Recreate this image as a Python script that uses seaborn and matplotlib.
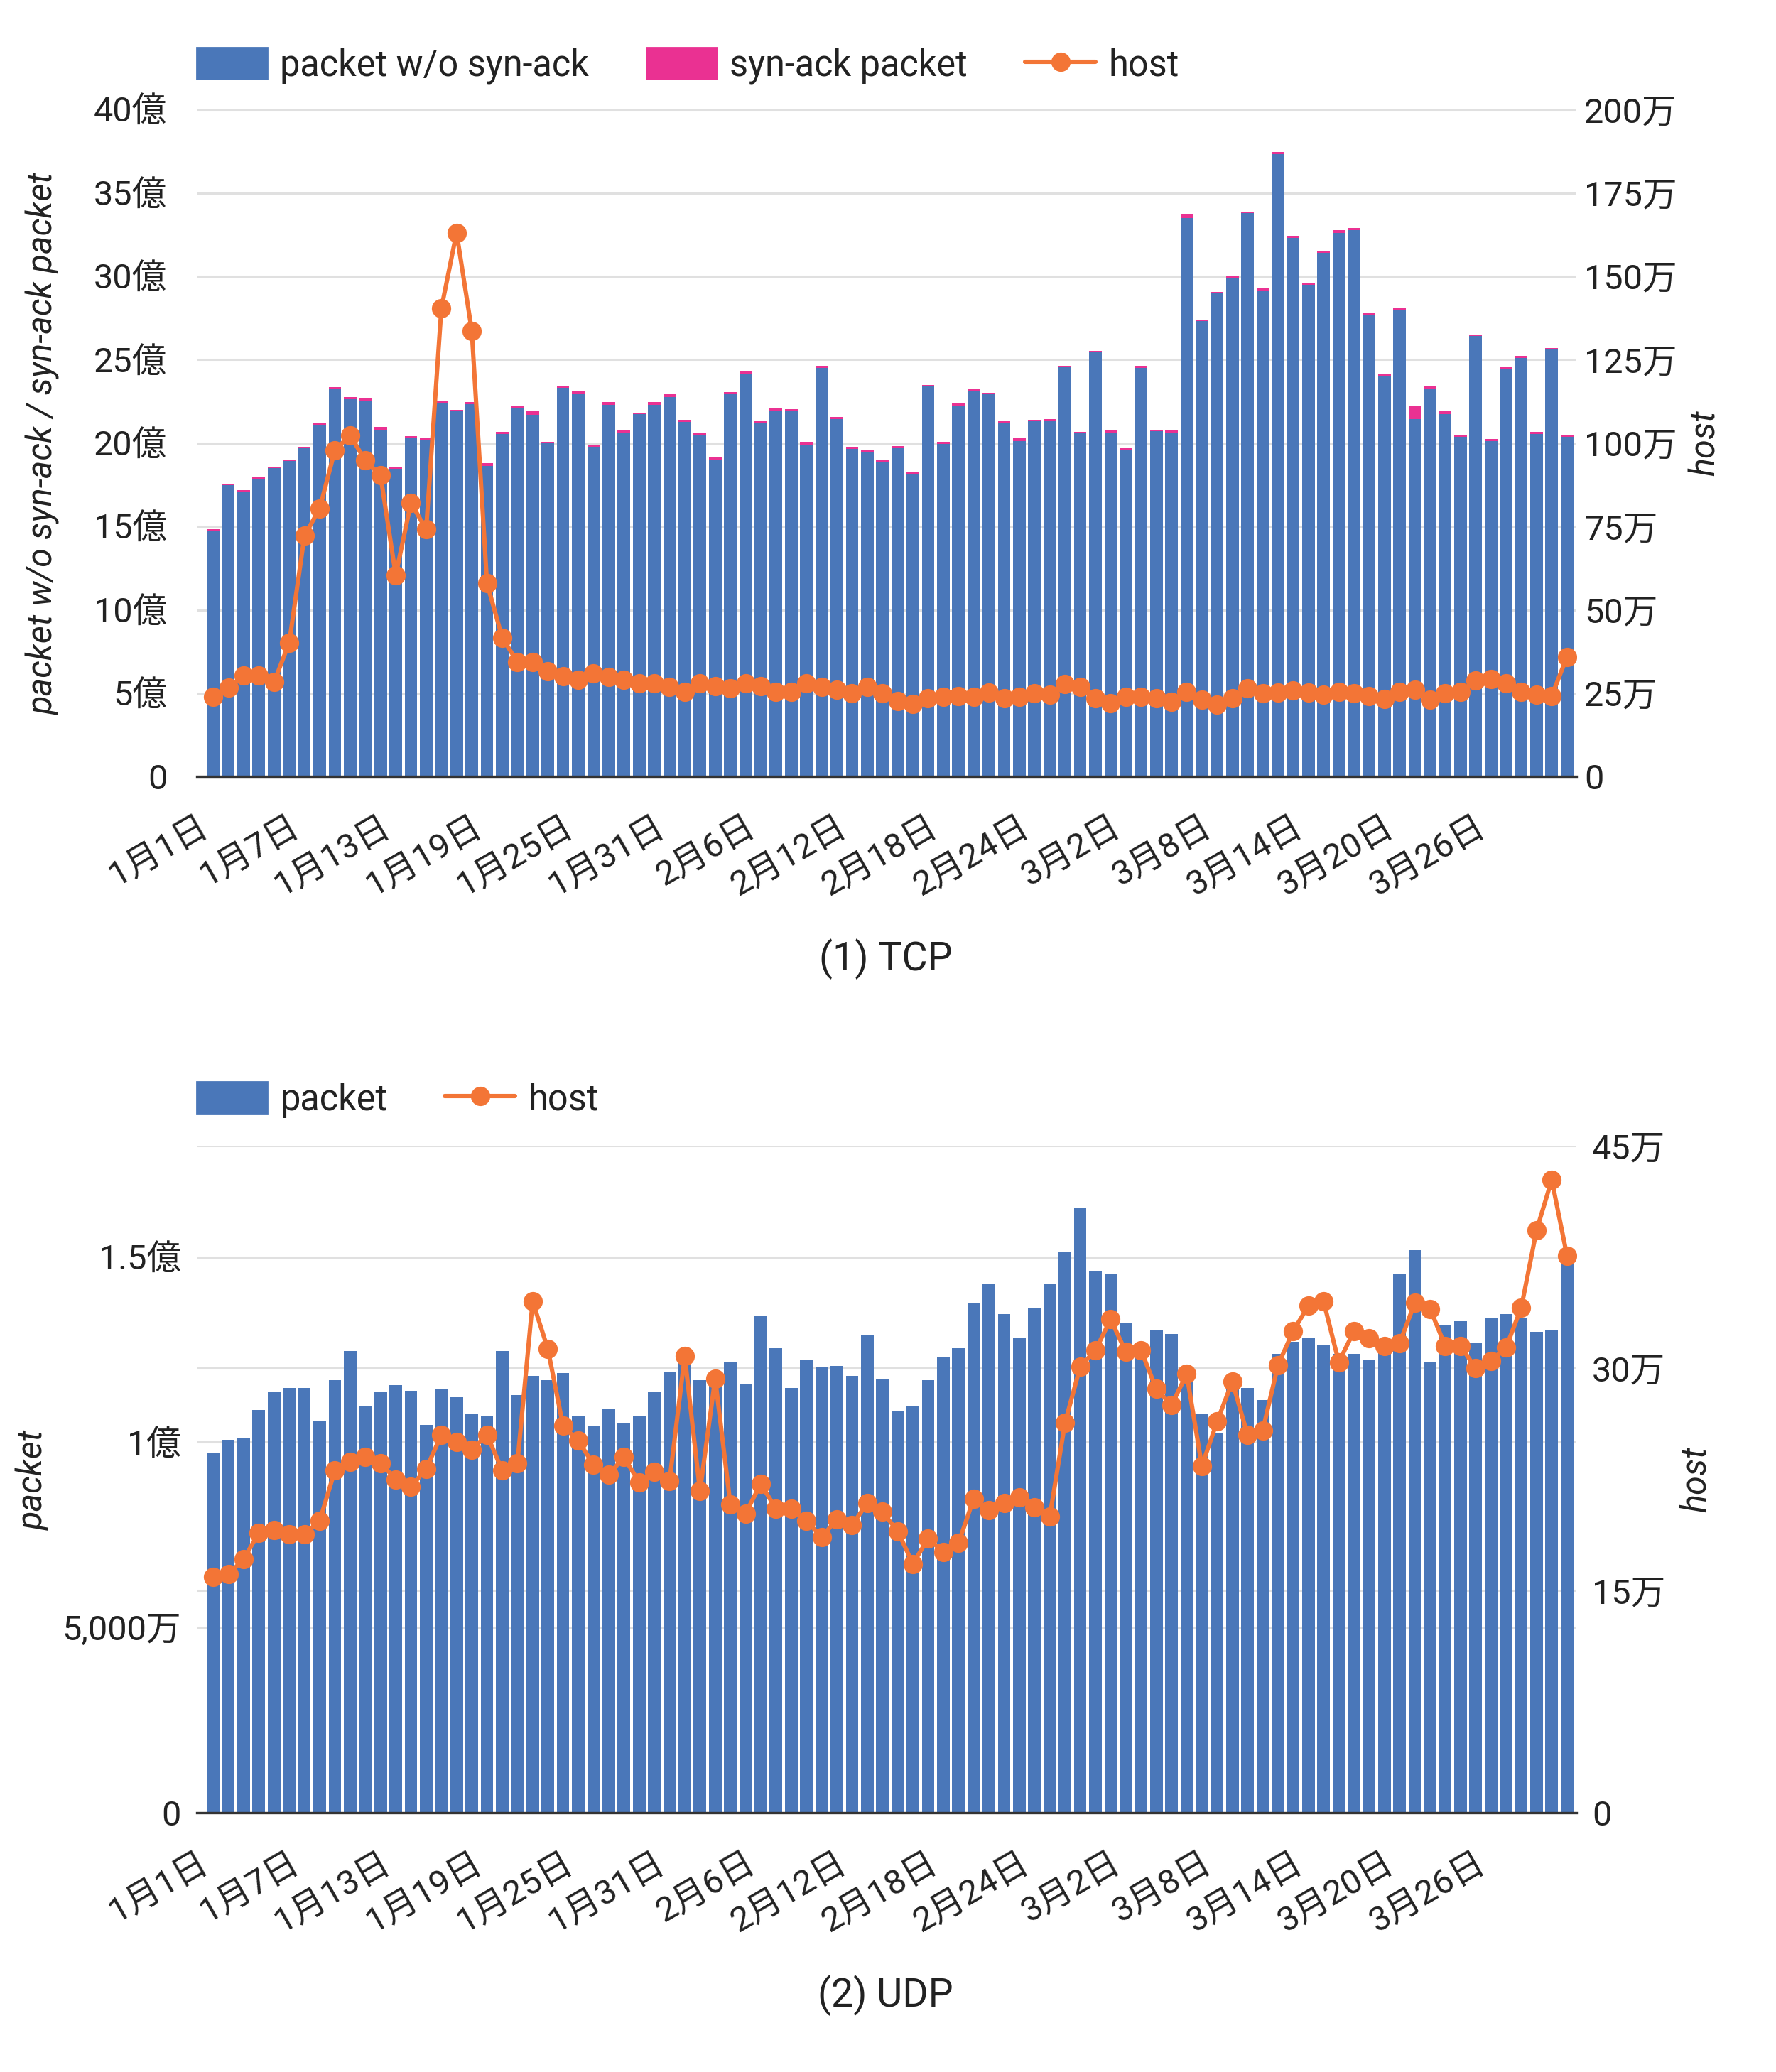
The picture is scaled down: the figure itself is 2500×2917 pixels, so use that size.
import numpy as np
import pandas as pd
import seaborn as sns
import matplotlib.pyplot as plt
from matplotlib.patches import Patch
from matplotlib.lines import Line2D
from matplotlib.ticker import FuncFormatter

sns.set_theme(style="white")
plt.rcParams['font.family'] = ['Roboto', 'Noto Sans CJK JP', 'DejaVu Sans']

BLUE = "#4a77b9"
PINK = "#ea3192"
ORANGE = "#f37536"
TEXT = "#222222"
GRID = "#e0e0e0"

# 1/1 - 3/31
days = pd.date_range("2023-01-01", "2023-03-31")
day_labels = [f"{d.month}月{d.day}日" for d in days]

# TCP, packets in 億
tcp_wo_synack = [
    14.77, 17.47, 17.09, 17.81, 18.48, 18.91, 19.72, 21.08, 23.23, 22.62,
    22.55, 20.81, 18.44, 20.27, 20.15, 22.40, 21.92, 22.32, 18.64, 20.55,
    22.14, 21.71, 19.98, 23.31, 22.98, 19.79, 22.30, 20.65, 21.72, 22.30,
    22.77, 21.28, 20.45, 19.01, 22.93, 24.17, 21.24, 21.97, 21.89, 19.90,
    24.52, 21.44, 19.64, 19.42, 18.83, 19.69, 18.13, 23.38, 19.93, 22.27,
    23.11, 22.93, 21.18, 20.13, 21.33, 21.36, 24.54, 20.58, 25.43, 20.65,
    19.59, 24.52, 20.70, 20.64, 33.51, 27.30, 28.97, 29.87, 33.79, 29.14,
    37.34, 32.32, 29.47, 31.39, 32.60, 32.75, 27.65, 24.02, 27.95, 21.42,
    23.23, 21.74, 20.38, 26.44, 20.12, 24.45, 25.12, 20.56, 25.61, 20.38,
]
tcp_synack = [
    0.05, 0.08, 0.08, 0.12, 0.08, 0.08, 0.05, 0.13, 0.13, 0.13,
    0.13, 0.15, 0.15, 0.13, 0.13, 0.10, 0.08, 0.13, 0.15, 0.13,
    0.13, 0.23, 0.10, 0.15, 0.10, 0.13, 0.15, 0.13, 0.10, 0.15,
    0.18, 0.13, 0.13, 0.13, 0.13, 0.15, 0.10, 0.10, 0.13, 0.18,
    0.10, 0.13, 0.13, 0.15, 0.13, 0.13, 0.10, 0.10, 0.15, 0.15,
    0.15, 0.08, 0.13, 0.15, 0.08, 0.10, 0.08, 0.10, 0.10, 0.13,
    0.13, 0.10, 0.08, 0.13, 0.23, 0.10, 0.10, 0.13, 0.10, 0.13,
    0.13, 0.10, 0.10, 0.13, 0.15, 0.13, 0.13, 0.15, 0.13, 0.78,
    0.15, 0.15, 0.13, 0.05, 0.13, 0.10, 0.13, 0.10, 0.10, 0.13,
]
# hosts in 万
tcp_host = [
    23.9, 26.6, 30.3, 30.4, 28.3, 40.2, 72.2, 80.4, 97.9, 102.3,
    94.8, 90.3, 60.4, 82.1, 74.1, 140.4, 163.1, 133.7, 58.0, 41.7,
    34.3, 34.3, 31.6, 30.2, 29.0, 30.9, 29.9, 29.0, 28.0, 28.0,
    27.0, 25.5, 28.0, 27.1, 26.4, 27.9, 27.1, 25.5, 25.5, 28.0,
    26.8, 26.0, 24.9, 26.8, 24.9, 22.6, 21.7, 23.4, 24.0, 24.2,
    24.0, 25.1, 23.4, 23.9, 24.9, 24.5, 27.7, 27.0, 23.5, 22.0,
    23.9, 24.0, 23.5, 22.5, 25.5, 23.0, 21.5, 23.4, 26.4, 25.0,
    25.3, 25.8, 25.3, 24.5, 25.5, 24.9, 24.2, 23.2, 25.5, 26.1,
    23.1, 25.0, 25.5, 28.9, 29.3, 28.0, 25.5, 24.6, 24.2, 35.9,
]

# UDP, packets in 億
udp_packet = [
    0.970, 1.006, 1.010, 1.087, 1.135, 1.146, 1.146, 1.058, 1.168, 1.246,
    1.098, 1.135, 1.154, 1.139, 1.047, 1.142, 1.122, 1.078, 1.071, 1.246,
    1.127, 1.179, 1.168, 1.186, 1.071, 1.043, 1.091, 1.050, 1.071, 1.135,
    1.190, 1.220, 1.168, 1.170, 1.215, 1.157, 1.341, 1.253, 1.146, 1.223,
    1.202, 1.205, 1.179, 1.290, 1.171, 1.083, 1.098, 1.168, 1.230, 1.253,
    1.374, 1.426, 1.345, 1.282, 1.363, 1.429, 1.514, 1.632, 1.462, 1.455,
    1.322, 1.260, 1.301, 1.293, 1.200, 1.078, 1.023, 1.160, 1.146, 1.113,
    1.238, 1.271, 1.282, 1.263, 1.238, 1.238, 1.223, 1.250, 1.455, 1.518,
    1.215, 1.315, 1.326, 1.267, 1.336, 1.345, 1.334, 1.297, 1.301, 1.521,
]
udp_host = [
    15.9, 16.1, 17.1, 18.9, 19.1, 18.8, 18.8, 19.7, 23.1, 23.7,
    24.0, 23.6, 22.5, 22.0, 23.2, 25.5, 25.0, 24.5, 25.5, 23.1,
    23.6, 34.5, 31.3, 26.1, 25.1, 23.5, 22.8, 24.0, 22.3, 23.0,
    22.4, 30.8, 21.7, 29.3, 20.8, 20.2, 22.2, 20.5, 20.5, 19.7,
    18.6, 19.8, 19.4, 20.9, 20.3, 19.0, 16.8, 18.5, 17.6, 18.2,
    21.2, 20.4, 20.9, 21.3, 20.6, 20.0, 26.3, 30.1, 31.2, 33.3,
    31.1, 31.2, 28.6, 27.5, 29.6, 23.4, 26.4, 29.1, 25.5, 25.8,
    30.2, 32.5, 34.2, 34.5, 30.4, 32.5, 32.0, 31.5, 31.7, 34.4,
    34.0, 31.5, 31.5, 30.0, 30.5, 31.4, 34.1, 39.3, 42.7, 37.6,
]

x_tick_pos = list(range(0, 90, 6))
FS = 17.5
LEG_FS = 18.2


def fmt_oku(v, pos):
    return "0" if v == 0 else f"{v:g}億"


def fmt_man(v, pos):
    return "0" if v == 0 else f"{v:g}万"


def fmt_udp_left(v, pos):
    if v == 0:
        return "0"
    if v < 1:
        return f"{v * 10000:,.0f}万"
    return f"{v:g}億"


def style_axes(ax, ax2, left_pad, right_pad):
    for s in ax.spines.values():
        s.set_visible(False)
    for s in ax2.spines.values():
        s.set_visible(False)
    ax.spines['bottom'].set_visible(True)
    ax.spines['bottom'].set_color('#333333')
    ax.spines['bottom'].set_linewidth(1.2)
    ax.set_xlim(-1.08, 89.62)
    ax.set_xlabel('')
    ax.set_ylabel('')
    ax2.set_ylabel('')
    ax.set_xticks(x_tick_pos)
    ax.set_xticklabels([day_labels[i] for i in x_tick_pos])
    ax.tick_params(axis='x', length=0, pad=17, labelsize=FS, colors=TEXT)
    plt.setp(ax.get_xticklabels(), rotation=30, ha='right')
    ax.tick_params(axis='y', which='both', length=0, pad=left_pad,
                   labelsize=FS, colors=TEXT)
    ax2.tick_params(axis='y', length=0, pad=right_pad, labelsize=FS, colors=TEXT)
    ax.xaxis.grid(False)
    ax.set_axisbelow(True)
    ax2.grid(False)


fig = plt.figure(figsize=(12.5, 14.585), dpi=200)

# ---- (1) TCP
ax = fig.add_axes([0.1108, 0.6252, 0.7768, 0.3219])
tcp_total = np.array(tcp_wo_synack) + np.array(tcp_synack)
sns.barplot(x=day_labels, y=tcp_total, order=day_labels, color=PINK,
            saturation=1, width=0.83, linewidth=0, errorbar=None, ax=ax)
sns.barplot(x=day_labels, y=tcp_wo_synack, order=day_labels, color=BLUE,
            saturation=1, width=0.83, linewidth=0, errorbar=None, ax=ax)
ax2 = ax.twinx()
sns.lineplot(x=np.arange(len(tcp_host)), y=tcp_host, ax=ax2, color=ORANGE,
             marker='o', markersize=9.8, markeredgewidth=0, linewidth=2.2,
             legend=False)
ax.set_ylim(0, 40)
ax2.set_ylim(0, 200)
ax.set_yticks(np.arange(0, 41, 5))
ax2.set_yticks(np.arange(0, 201, 25))
ax.yaxis.set_major_formatter(FuncFormatter(fmt_oku))
ax2.yaxis.set_major_formatter(FuncFormatter(fmt_man))
ax.yaxis.grid(True, color=GRID, linewidth=1.1)
style_axes(ax, ax2, 15, 4)

handles = [Patch(color=BLUE), Patch(color=PINK),
           Line2D([], [], color=ORANGE, marker='o', lw=2.2, ms=9.8, mew=0)]
ax.legend(handles, ["packet w/o syn-ack", "syn-ack packet", "host"],
          loc='center left', bbox_to_anchor=(0, 1.066), ncol=3, frameon=False,
          fontsize=LEG_FS, handlelength=1.96, handleheight=0.98,
          handletextpad=0.36, columnspacing=1.6, borderpad=0, borderaxespad=0,
          labelcolor=TEXT)

fig.text(0.0243, 0.7861, "packet w/o syn-ack / syn-ack packet", rotation=90,
         ha='center', va='center', fontsize=FS, style='italic', color=TEXT)
fig.text(0.960, 0.7861, "host", rotation=90, ha='center', va='center',
         fontsize=FS, style='italic', color=TEXT)
fig.text(0.4986, 0.537, "(1) TCP", ha='center', va='center', fontsize=20,
         color=TEXT)

# ---- (2) UDP
bx = fig.add_axes([0.1108, 0.1251, 0.7768, 0.3219])
sns.barplot(x=day_labels, y=udp_packet, order=day_labels, color=BLUE,
            saturation=1, width=0.83, linewidth=0, errorbar=None, ax=bx)
bx2 = bx.twinx()
sns.lineplot(x=np.arange(len(udp_host)), y=udp_host, ax=bx2, color=ORANGE,
             marker='o', markersize=9.8, markeredgewidth=0, linewidth=2.2,
             legend=False)
bx.set_ylim(0, 1.8)
bx2.set_ylim(0, 45)
bx.set_yticks([0, 0.5, 1.0, 1.5])
# right-axis grid lines drawn behind the bars
bx.set_yticks([0.6, 1.2, 1.8], minor=True)
bx.yaxis.set_minor_formatter(FuncFormatter(lambda v, p: ""))
bx2.set_yticks([0, 15, 30, 45])
bx.yaxis.set_major_formatter(FuncFormatter(fmt_udp_left))
bx2.yaxis.set_major_formatter(FuncFormatter(fmt_man))
bx.yaxis.grid(True, which='both', color=GRID, linewidth=1.1)
style_axes(bx, bx2, 8, 8)

handles = [Patch(color=BLUE),
           Line2D([], [], color=ORANGE, marker='o', lw=2.2, ms=9.8, mew=0)]
bx.legend(handles, ["packet", "host"],
          loc='center left', bbox_to_anchor=(0, 1.069), ncol=2, frameon=False,
          fontsize=LEG_FS, handlelength=1.96, handleheight=0.98,
          handletextpad=0.36, columnspacing=1.6, borderpad=0, borderaxespad=0,
          labelcolor=TEXT)

fig.text(0.0186, 0.2859, "packet", rotation=90, ha='center', va='center',
         fontsize=FS, style='italic', color=TEXT)
fig.text(0.955, 0.2859, "host", rotation=90, ha='center', va='center',
         fontsize=FS, style='italic', color=TEXT)
fig.text(0.4986, 0.037, "(2) UDP", ha='center', va='center', fontsize=20,
         color=TEXT)

fig.savefig("out.png", dpi=200, facecolor='white')
